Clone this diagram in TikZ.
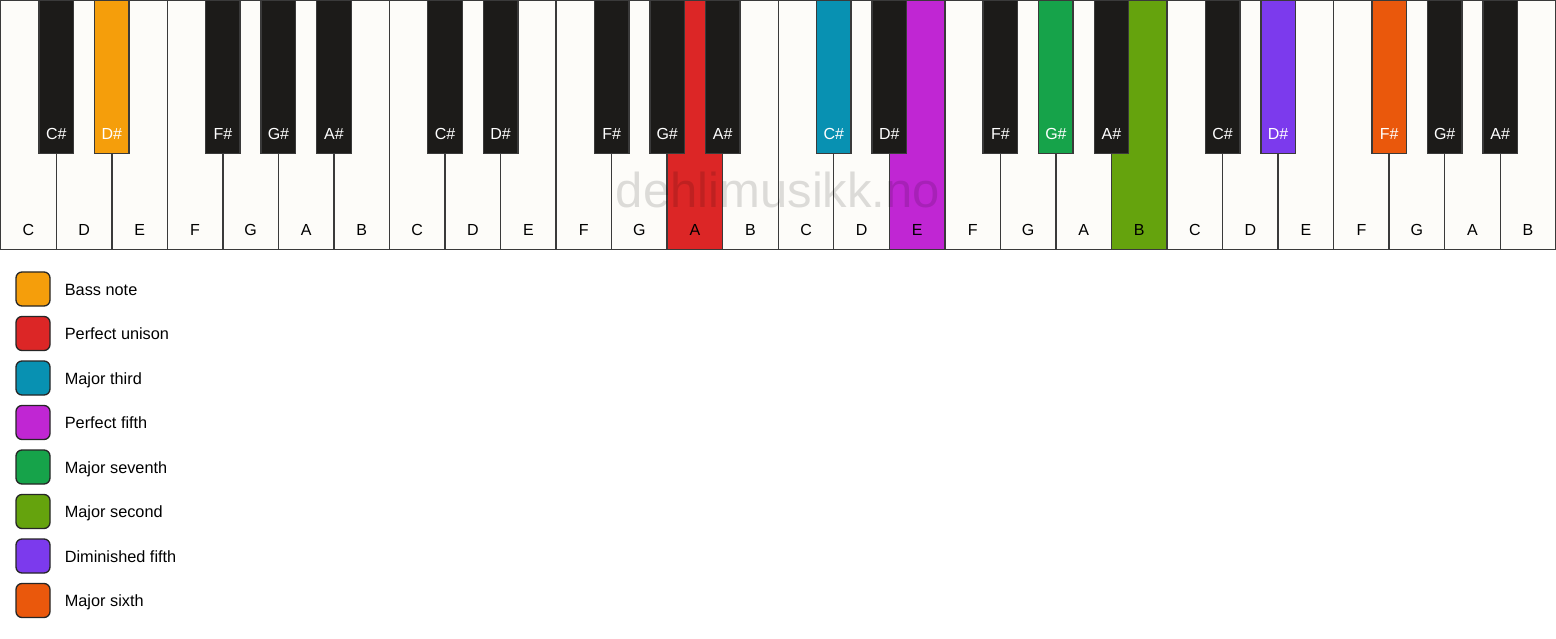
\documentclass[tikz,border=0pt]{standalone}
\usepackage{fontspec}
\setmainfont{Liberation Sans}
\definecolor{keyline}{HTML}{3A3A3A}
\definecolor{ivory}{HTML}{FDFCF9}
\definecolor{ebony}{HTML}{1C1B19}
\definecolor{cBass}{HTML}{F59E0B}
\definecolor{cUnison}{HTML}{DC2626}
\definecolor{cThird}{HTML}{0891B2}
\definecolor{cFifth}{HTML}{C026D3}
\definecolor{cSeventh}{HTML}{16A34A}
\definecolor{cSecond}{HTML}{65A30D}
\definecolor{cDimFifth}{HTML}{7C3AED}
\definecolor{cSixth}{HTML}{EA580C}
\begin{document}
\begin{tikzpicture}[x=1pt,y=-1pt,
  whitekey/.style={draw=keyline, line width=1.4pt, inner sep=0pt, outer sep=0pt,
    minimum width=55.536pt, minimum height=249pt, anchor=north west},
  blackkey/.style={draw=keyline, line width=1.4pt, inner sep=0pt, outer sep=0pt,
    minimum width=34.5pt, minimum height=153pt, anchor=north},
  whitelabel/.style={font=\fontsize{16}{18}\selectfont, text=black, anchor=base, inner sep=0pt},
  blacklabel/.style={font=\fontsize{16}{18}\selectfont, text=white, anchor=base, inner sep=0pt},
  swatch/.style={draw=black!85, line width=1.3pt, rounded corners=6pt, minimum width=34pt,
    minimum height=34pt, inner sep=0pt},
  legendtext/.style={font=\fontsize{16.3}{18}\selectfont, anchor=base west, inner sep=0pt},
  watermark/.style={font=\fontsize{49}{55}\selectfont, text=black, text opacity=0.13, anchor=base}
]
\useasboundingbox (0,0) rectangle (1556,639);
\fill[white] (0,0) rectangle (1556,639);
% white keys
\foreach \i/\n/\c in {0/C/ivory,1/D/ivory,2/E/ivory,3/F/ivory,4/G/ivory,5/A/ivory,6/B/ivory,
  7/C/ivory,8/D/ivory,9/E/ivory,10/F/ivory,11/G/ivory,12/A/cUnison,13/B/ivory,
  14/C/ivory,15/D/ivory,16/E/cFifth,17/F/ivory,18/G/ivory,19/A/ivory,20/B/cSecond,
  21/C/ivory,22/D/ivory,23/E/ivory,24/F/ivory,25/G/ivory,26/A/ivory,27/B/ivory}{
  \node[whitekey, fill=\c] (w\i) at ({0.75+\i*55.536},0.6) {};
  \node[whitelabel] (wl\i) at ([yshift=13.6pt]w\i.south) {\n};
}
% watermark
\node[watermark] (wm) at (778,208) {dehlimusikk.no};
% black keys
\foreach \j/\n/\c in {1/C\#/ebony,2/D\#/cBass,4/F\#/ebony,5/G\#/ebony,6/A\#/ebony,
  8/C\#/ebony,9/D\#/ebony,11/F\#/ebony,12/G\#/ebony,13/A\#/ebony,
  15/C\#/cThird,16/D\#/ebony,18/F\#/ebony,19/G\#/cSeventh,20/A\#/ebony,
  22/C\#/ebony,23/D\#/cDimFifth,25/F\#/cSixth,26/G\#/ebony,27/A\#/ebony}{
  \node[blackkey, fill=\c] (b\j) at ({0.75+\j*55.536},0.6) {};
  \node[blacklabel] (bl\j) at ([yshift=14.3pt]b\j.south) {\n};
}
% legend
\foreach \k/\c/\t in {0/cBass/Bass note,1/cUnison/Perfect unison,2/cThird/Major third,
  3/cFifth/Perfect fifth,4/cSeventh/Major seventh,5/cSecond/Major second,
  6/cDimFifth/Diminished fifth,7/cSixth/Major sixth}{
  \node[swatch, fill=\c] (s\k) at (33,{289+\k*44.5}) {};
  \node[legendtext] (t\k) at ([xshift=14pt,yshift=-6pt]s\k.east) {\t};
}
\end{tikzpicture}
\end{document}
